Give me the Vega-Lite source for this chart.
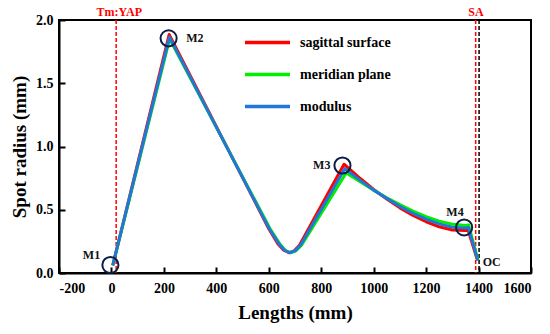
{
  "$schema": "https://vega.github.io/schema/vega-lite/v6.json",
  "width": 472,
  "height": 253,
  "autosize": {"type": "none"},
  "padding": {"left": 59, "top": 20, "right": 19, "bottom": 61},
  "background": "white",
  "config": {
    "font": "Liberation Serif",
    "view": {"stroke": "black", "strokeWidth": 2},
    "axis": {
      "domainColor": "black", "domainWidth": 2, "tickColor": "black", "tickWidth": 2,
      "labelFont": "Liberation Serif", "labelFontWeight": "bold", "labelFontSize": 14, "labelColor": "black",
      "titleFont": "Liberation Serif", "titleFontWeight": "bold", "titleFontSize": 19, "titleColor": "black",
      "grid": false
    },
    "legend": {"labelFont": "Liberation Serif"},
    "text": {"font": "Liberation Serif"}
  },
  "datasets": {
    "curves": [
      {"x": 5, "y": 0.06, "s": "sagittal surface"},
      {"x": 220, "y": 1.885, "s": "sagittal surface"},
      {"x": 600, "y": 0.35, "s": "sagittal surface"},
      {"x": 635, "y": 0.23, "s": "sagittal surface"},
      {"x": 657, "y": 0.18, "s": "sagittal surface"},
      {"x": 677, "y": 0.16, "s": "sagittal surface"},
      {"x": 697, "y": 0.175, "s": "sagittal surface"},
      {"x": 717, "y": 0.22, "s": "sagittal surface"},
      {"x": 887, "y": 0.86, "s": "sagittal surface"},
      {"x": 950, "y": 0.745, "s": "sagittal surface"},
      {"x": 1000, "y": 0.66, "s": "sagittal surface"},
      {"x": 1050, "y": 0.585, "s": "sagittal surface"},
      {"x": 1100, "y": 0.515, "s": "sagittal surface"},
      {"x": 1150, "y": 0.455, "s": "sagittal surface"},
      {"x": 1200, "y": 0.405, "s": "sagittal surface"},
      {"x": 1250, "y": 0.365, "s": "sagittal surface"},
      {"x": 1300, "y": 0.34, "s": "sagittal surface"},
      {"x": 1350, "y": 0.335, "s": "sagittal surface"},
      {"x": 1360, "y": 0.34, "s": "sagittal surface"},
      {"x": 1396, "y": 0.1, "s": "sagittal surface"},
      {"x": 5, "y": 0.06, "s": "meridian plane"},
      {"x": 222, "y": 1.85, "s": "meridian plane"},
      {"x": 605, "y": 0.35, "s": "meridian plane"},
      {"x": 642, "y": 0.23, "s": "meridian plane"},
      {"x": 663, "y": 0.18, "s": "meridian plane"},
      {"x": 683, "y": 0.16, "s": "meridian plane"},
      {"x": 703, "y": 0.175, "s": "meridian plane"},
      {"x": 725, "y": 0.22, "s": "meridian plane"},
      {"x": 895, "y": 0.79, "s": "meridian plane"},
      {"x": 950, "y": 0.72, "s": "meridian plane"},
      {"x": 1000, "y": 0.655, "s": "meridian plane"},
      {"x": 1050, "y": 0.595, "s": "meridian plane"},
      {"x": 1100, "y": 0.54, "s": "meridian plane"},
      {"x": 1150, "y": 0.49, "s": "meridian plane"},
      {"x": 1200, "y": 0.445, "s": "meridian plane"},
      {"x": 1250, "y": 0.41, "s": "meridian plane"},
      {"x": 1300, "y": 0.385, "s": "meridian plane"},
      {"x": 1350, "y": 0.375, "s": "meridian plane"},
      {"x": 1362, "y": 0.38, "s": "meridian plane"},
      {"x": 1398, "y": 0.1, "s": "meridian plane"},
      {"x": 5, "y": 0.06, "s": "modulus"},
      {"x": 221, "y": 1.865, "s": "modulus"},
      {"x": 602, "y": 0.35, "s": "modulus"},
      {"x": 639, "y": 0.23, "s": "modulus"},
      {"x": 660, "y": 0.18, "s": "modulus"},
      {"x": 680, "y": 0.16, "s": "modulus"},
      {"x": 700, "y": 0.175, "s": "modulus"},
      {"x": 721, "y": 0.22, "s": "modulus"},
      {"x": 890, "y": 0.825, "s": "modulus"},
      {"x": 950, "y": 0.73, "s": "modulus"},
      {"x": 1000, "y": 0.655, "s": "modulus"},
      {"x": 1050, "y": 0.59, "s": "modulus"},
      {"x": 1100, "y": 0.527, "s": "modulus"},
      {"x": 1150, "y": 0.472, "s": "modulus"},
      {"x": 1200, "y": 0.425, "s": "modulus"},
      {"x": 1250, "y": 0.388, "s": "modulus"},
      {"x": 1300, "y": 0.362, "s": "modulus"},
      {"x": 1350, "y": 0.355, "s": "modulus"},
      {"x": 1361, "y": 0.36, "s": "modulus"},
      {"x": 1397, "y": 0.1, "s": "modulus"}
    ],
    "rules": [
      {"x": 18, "kind": "Tm:YAP", "c": "red"},
      {"x": 1389, "kind": "SA", "c": "red"},
      {"x": 1402, "kind": "OC", "c": "black"}
    ],
    "marks": [
      {"x": -4, "y": 0.063, "label": "M1", "lx": -76, "ly": 0.145},
      {"x": 218, "y": 1.855, "label": "M2", "lx": 318, "ly": 1.86},
      {"x": 881, "y": 0.85, "label": "M3", "lx": 802, "ly": 0.855},
      {"x": 1345, "y": 0.36, "label": "M4", "lx": 1310, "ly": 0.48}
    ],
    "texts": [
      {"x": 30, "y": 2.065, "t": "Tm:YAP"},
      {"x": 1390, "y": 2.065, "t": "SA"}
    ],
    "oc": [{"x": 1450, "y": 0.085, "t": "OC"}]
  },
  "layer": [
    {
      "data": {"name": "rules"},
      "transform": [{"filter": "datum.c === 'red'"}],
      "mark": {"type": "rule", "color": "#ff0000", "strokeWidth": 1.5, "strokeDash": [4, 2]},
      "encoding": {"x": {"field": "x", "type": "quantitative"}}
    },
    {
      "data": {"name": "rules"},
      "transform": [{"filter": "datum.c === 'black'"}],
      "mark": {"type": "rule", "color": "black", "strokeWidth": 1.5, "strokeDash": [4, 2]},
      "encoding": {"x": {"field": "x", "type": "quantitative"}}
    },
    {
      "data": {"name": "curves"},
      "mark": {"type": "line", "strokeWidth": 3, "strokeJoin": "round"},
      "encoding": {
        "x": {
          "field": "x", "type": "quantitative",
          "scale": {"domain": [-200, 1600], "nice": false},
          "title": "Lengths (mm)",
          "axis": {
            "values": [-200, -100, 0, 100, 200, 300, 400, 500, 600, 700, 800, 900, 1000, 1100, 1200, 1300, 1400, 1500, 1600],
            "labelExpr": "datum.value % 200 === 0 ? '' + datum.value : ''",
            "tickSize": {"expr": "datum.value % 200 === 0 ? -6 : -3"},
            "labelPadding": 14,
            "titlePadding": 8
          }
        },
        "y": {
          "field": "y", "type": "quantitative",
          "scale": {"domain": [0, 2], "nice": false},
          "title": "Spot radius (mm)",
          "axis": {
            "values": [0, 0.25, 0.5, 0.75, 1, 1.25, 1.5, 1.75, 2],
            "labelExpr": "(datum.value * 4) % 2 === 0 ? format(datum.value, '.1f') : ''",
            "tickSize": {"expr": "(datum.value * 4) % 2 === 0 ? -6 : -3"},
            "labelPadding": 12,
            "titlePadding": 6
          }
        },
        "color": {
          "field": "s", "type": "nominal",
          "scale": {"domain": ["sagittal surface", "meridian plane", "modulus"], "range": ["#ff0000", "#00ee00", "#1f78d6"]},
          "legend": {
            "title": null, "orient": "none", "legendX": 184, "legendY": -2, "padding": 0,
            "symbolType": "stroke", "symbolSize": 2025, "symbolStrokeWidth": 3.5,
            "labelFont": "Liberation Serif", "labelFontWeight": "bold", "labelFontSize": 14, "labelColor": "black",
            "rowPadding": -16, "labelOffset": 8
          }
        }
      }
    },
    {
      "data": {"name": "marks"},
      "mark": {"type": "point", "shape": "circle", "filled": false, "stroke": "#0a1e46", "strokeWidth": 2, "size": 260, "opacity": 1},
      "encoding": {
        "x": {"field": "x", "type": "quantitative"},
        "y": {"field": "y", "type": "quantitative"}
      }
    },
    {
      "data": {"name": "marks"},
      "mark": {"type": "text", "font": "Liberation Serif", "fontWeight": "bold", "fontSize": 12, "color": "#111"},
      "encoding": {
        "x": {"field": "lx", "type": "quantitative"},
        "y": {"field": "ly", "type": "quantitative"},
        "text": {"field": "label"}
      }
    },
    {
      "data": {"name": "oc"},
      "mark": {"type": "text", "font": "Liberation Serif", "fontWeight": "bold", "fontSize": 12, "color": "#111"},
      "encoding": {
        "x": {"field": "x", "type": "quantitative"},
        "y": {"field": "y", "type": "quantitative"},
        "text": {"field": "t"}
      }
    },
    {
      "data": {"name": "texts"},
      "mark": {"type": "text", "font": "Liberation Serif", "fontWeight": "bold", "fontSize": 12, "color": "#ff0000"},
      "encoding": {
        "x": {"field": "x", "type": "quantitative"},
        "y": {"field": "y", "type": "quantitative"},
        "text": {"field": "t"}
      }
    }
  ]
}
